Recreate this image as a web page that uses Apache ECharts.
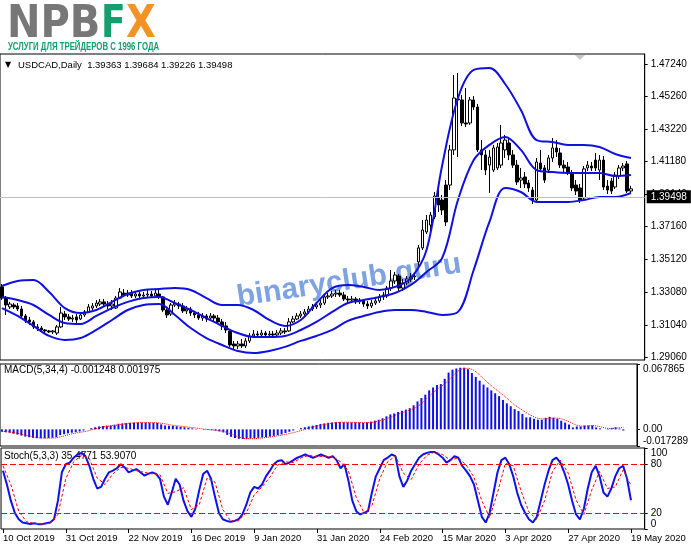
<!DOCTYPE html>
<html><head><meta charset="utf-8">
<script src="https://cdn.jsdelivr.net/npm/echarts@6/dist/echarts.min.js"></script>
<style>html,body{margin:0;padding:0;background:#fff;}#c{width:691px;height:549px;}</style>
</head><body><div id="c"></div><script>
const FONT = '"Liberation Sans", Arial, "DejaVu Sans", sans-serif';

const tickLabels = ['10 Oct 2019','31 Oct 2019','22 Nov 2019','16 Dec 2019','9 Jan 2020','31 Jan 2020','24 Feb 2020','15 Mar 2020','3 Apr 2020','27 Apr 2020','19 May 2020'];
const tickIndex = [0,16,32,48,64,80,96,112,128,144,160];
const slotCount = 164;

const priceTicks = [1.29060,1.31040,1.33080,1.35120,1.37160,1.39140,1.41180,1.43220,1.45260,1.47240];
const macdTicks = [-0.017289, 0, 0.067865];
const stochTicks = [0, 20, 80, 100];
const stochLevels = [80, 20];

const opens = [1.3341,1.3272,1.3217,1.3229,1.3223,1.3204,1.3161,1.3136,1.3124,1.3093,1.3086,1.3074,1.3068,1.3062,1.3055,1.3093,1.3173,1.3155,1.3142,1.3155,
1.3142,1.3167,1.3186,1.3210,1.3223,1.3235,1.3248,1.3235,1.3223,1.3210,1.3272,1.3303,1.3291,1.3303,1.3285,1.3297,1.3285,1.3291,1.3297,1.3285,
1.3297,1.3279,1.3198,1.3173,1.3229,1.3235,1.3223,1.3192,1.3204,1.3179,1.3167,1.3148,1.3161,1.3148,1.3161,1.3148,1.3124,1.3099,1.3068,1.2987,
1.2975,1.2987,1.2975,1.3006,1.3037,1.3049,1.3043,1.3055,1.3043,1.3049,1.3043,1.3055,1.3068,1.3068,1.3124,1.3142,1.3161,1.3173,1.3186,1.3204,
1.3217,1.3229,1.3241,1.3279,1.3285,1.3297,1.3303,1.3291,1.3266,1.3260,1.3266,1.3248,1.3260,1.3235,1.3223,1.3241,1.3254,1.3279,1.3285,1.3334,
1.3378,1.3409,1.3334,1.3365,1.3390,1.3403,1.3496,1.3583,1.3682,1.3725,1.3775,1.3893,1.3880,1.3973,1.3973,1.4191,1.4507,1.4501,1.4358,1.4358,
1.4501,1.4457,1.4191,1.4160,1.4097,1.4066,1.4079,1.4097,1.4191,1.4234,1.4160,1.4097,1.4004,1.4023,1.3986,1.3942,1.3880,1.4110,1.4079,1.4066,
1.4141,1.4203,1.4172,1.4097,1.4085,1.4042,1.3973,1.3955,1.3893,1.4079,1.4091,1.4128,1.4066,1.4128,1.3967,1.3998,1.3961,1.4029,1.4079,1.4104,
1.39363];
const closes = [1.3272,1.3229,1.3235,1.3217,1.3204,1.3161,1.3130,1.3124,1.3093,1.3086,1.3074,1.3068,1.3062,1.3068,1.3093,1.3179,1.3155,1.3142,1.3148,1.3136,
1.3167,1.3186,1.3217,1.3223,1.3241,1.3248,1.3235,1.3223,1.3235,1.3272,1.3310,1.3291,1.3303,1.3285,1.3297,1.3285,1.3291,1.3297,1.3285,1.3303,
1.3279,1.3198,1.3167,1.3229,1.3241,1.3223,1.3192,1.3204,1.3179,1.3167,1.3148,1.3161,1.3142,1.3161,1.3148,1.3124,1.3099,1.3074,1.2981,1.2975,
1.2987,1.2975,1.3006,1.3037,1.3049,1.3043,1.3055,1.3043,1.3049,1.3043,1.3055,1.3068,1.3062,1.3124,1.3142,1.3161,1.3173,1.3186,1.3204,1.3217,
1.3229,1.3241,1.3279,1.3285,1.3297,1.3303,1.3291,1.3266,1.3260,1.3266,1.3248,1.3260,1.3235,1.3223,1.3241,1.3254,1.3279,1.3291,1.3334,1.3378,
1.3415,1.3334,1.3365,1.3390,1.3403,1.3409,1.3583,1.3694,1.3756,1.3787,1.3905,1.3849,1.3818,1.3744,1.4191,1.4513,1.4501,1.4358,1.4352,1.4501,
1.4457,1.4191,1.4160,1.4066,1.4147,1.4203,1.4209,1.4234,1.4252,1.4160,1.4097,1.3992,1.4017,1.3980,1.3955,1.3880,1.4116,1.4073,1.4004,1.4141,
1.4203,1.4178,1.4097,1.4079,1.4054,1.3955,1.3936,1.3880,1.4073,1.4097,1.4079,1.4079,1.4128,1.3961,1.3942,1.3936,1.4035,1.4079,1.4091,1.3936,
1.39498];
const highs = [1.3359,1.3285,1.3248,1.3241,1.3241,1.3223,1.3173,1.3155,1.3136,1.3111,1.3099,1.3080,1.3074,1.3074,1.3105,1.3217,1.3192,1.3173,1.3167,1.3173,
1.3179,1.3198,1.3235,1.3241,1.3260,1.3266,1.3266,1.3254,1.3260,1.3285,1.3334,1.3328,1.3322,1.3322,1.3316,1.3316,1.3310,1.3328,1.3316,1.3328,
1.3322,1.3285,1.3217,1.3241,1.3260,1.3248,1.3241,1.3223,1.3217,1.3192,1.3186,1.3179,1.3173,1.3179,1.3173,1.3167,1.3142,1.3124,1.3080,1.3006,
1.3006,1.3018,1.3024,1.3055,1.3074,1.3068,1.3074,1.3068,1.3068,1.3068,1.3074,1.3086,1.3086,1.3148,1.3161,1.3179,1.3192,1.3204,1.3223,1.3235,
1.3248,1.3260,1.3297,1.3303,1.3316,1.3322,1.3322,1.3310,1.3285,1.3285,1.3279,1.3272,1.3266,1.3254,1.3260,1.3279,1.3297,1.3310,1.3347,1.3446,
1.3434,1.3421,1.3390,1.3409,1.3427,1.3434,1.3601,1.3756,1.3787,1.3806,1.3930,1.3992,1.3911,1.4004,1.4222,1.4656,1.4668,1.4532,1.4575,1.4519,
1.4525,1.4476,1.4252,1.4191,1.4191,1.4222,1.4234,1.4346,1.4284,1.4265,1.4191,1.4128,1.4079,1.4054,1.4004,1.3961,1.4141,1.4191,1.4097,1.4160,
1.4265,1.4252,1.4203,1.4128,1.4116,1.4066,1.4004,1.3980,1.4091,1.4122,1.4116,1.4172,1.4160,1.4153,1.4004,1.4017,1.4054,1.4097,1.4110,1.4122,
1.39684];
const lows = [1.3260,1.3167,1.3204,1.3204,1.3192,1.3148,1.3117,1.3105,1.3080,1.3068,1.3062,1.3055,1.3055,1.3049,1.3043,1.3086,1.3136,1.3130,1.3124,1.3111,
1.3136,1.3155,1.3179,1.3198,1.3210,1.3223,1.3223,1.3204,1.3198,1.3204,1.3266,1.3279,1.3279,1.3272,1.3272,1.3266,1.3272,1.3279,1.3272,1.3279,
1.3266,1.3186,1.3148,1.3161,1.3217,1.3204,1.3179,1.3173,1.3161,1.3148,1.3136,1.3130,1.3124,1.3136,1.3130,1.3111,1.3074,1.3055,1.2969,1.2956,
1.2956,1.2962,1.2962,1.2993,1.3024,1.3024,1.3031,1.3024,1.3031,1.3031,1.3037,1.3043,1.3049,1.3062,1.3117,1.3136,1.3148,1.3161,1.3173,1.3192,
1.3204,1.3210,1.3229,1.3266,1.3272,1.3279,1.3279,1.3254,1.3241,1.3241,1.3235,1.3235,1.3217,1.3204,1.3210,1.3229,1.3241,1.3260,1.3272,1.3316,
1.3359,1.3316,1.3316,1.3353,1.3372,1.3384,1.3471,1.3570,1.3669,1.3694,1.3762,1.3806,1.3787,1.3719,1.3942,1.4160,1.4147,1.4339,1.4333,1.4346,
1.4439,1.4178,1.4066,1.4035,1.3924,1.4054,1.4066,1.4079,1.4141,1.4128,1.4079,1.3973,1.3955,1.3955,1.3930,1.3855,1.3862,1.4054,1.3986,1.4048,
1.4116,1.4147,1.4079,1.4054,1.4035,1.3936,1.3911,1.3862,1.3880,1.4060,1.4060,1.4060,1.4004,1.3942,1.3918,1.3918,1.3949,1.4011,1.4060,1.3924,
1.39226];

const bandIndex = [0,4,8,12,16,20,24,28,32,36,40,44,48,52,56,60,64,68,72,76,80,84,88,92,96,100,104,108,112,116,120,124,128,132,136,140,144,148,152,156,160];
const bbUpper = [1.3347,1.3378,1.3384,1.3310,1.3210,1.3179,1.3198,1.3248,1.3297,1.3322,1.3328,1.3334,1.3322,1.3272,1.3229,1.3229,1.3198,1.3136,1.3099,1.3136,
1.3241,1.3334,1.3353,1.3341,1.3322,1.3341,1.3396,1.3570,1.4097,1.4513,1.4687,1.4699,1.4600,1.4439,1.4252,1.4240,1.4222,1.4222,1.4209,1.4166,1.4141];
const bbMiddle = [1.3279,1.3260,1.3229,1.3167,1.3117,1.3111,1.3161,1.3210,1.3248,1.3272,1.3279,1.3241,1.3198,1.3148,1.3099,1.3055,1.3031,1.3031,1.3037,1.3074,
1.3124,1.3186,1.3241,1.3260,1.3279,1.3303,1.3353,1.3434,1.3521,1.3880,1.4128,1.4222,1.4271,1.4191,1.4066,1.4054,1.4048,1.4048,1.4048,1.4029,1.4035];
const bbLower = [1.3210,1.3161,1.3099,1.3037,1.3012,1.3024,1.3074,1.3136,1.3198,1.3229,1.3235,1.3167,1.3086,1.3024,1.2981,1.2944,1.2931,1.2944,1.2969,1.3006,
1.3037,1.3074,1.3130,1.3161,1.3186,1.3198,1.3198,1.3186,1.3167,1.3186,1.3446,1.3744,1.3955,1.3930,1.3868,1.3868,1.3868,1.3880,1.3899,1.3899,1.3924];

const macdMain = [-0.0025,-0.0030,-0.0035,-0.0045,-0.0055,-0.0065,-0.0075,-0.0082,-0.0088,-0.0092,-0.0093,-0.0092,-0.0090,-0.0087,-0.0080,-0.0060,-0.0050,-0.0042,-0.0035,-0.0030,
-0.0022,-0.0012,0.0000,0.0012,0.0022,0.0030,0.0035,0.0038,0.0040,0.0048,0.0058,0.0062,0.0066,0.0068,0.0070,0.0071,0.0071,0.0070,0.0069,0.0068,
0.0066,0.0052,0.0040,0.0038,0.0036,0.0032,0.0026,0.0022,0.0016,0.0010,0.0004,0.0000,-0.0004,-0.0006,-0.0009,-0.0014,-0.0022,-0.0032,-0.0058,-0.0078,
-0.0090,-0.0098,-0.0100,-0.0098,-0.0095,-0.0092,-0.0088,-0.0085,-0.0080,-0.0075,-0.0068,-0.0060,-0.0052,-0.0038,-0.0025,-0.0012,0.0000,0.0012,0.0022,0.0030,
0.0038,0.0045,0.0055,0.0062,0.0068,0.0072,0.0075,0.0075,0.0074,0.0073,0.0072,0.0072,0.0070,0.0068,0.0072,0.0080,0.0090,0.0100,0.0115,0.0135,
0.0155,0.0165,0.0180,0.0192,0.0205,0.0220,0.0250,0.0290,0.0325,0.0360,0.0405,0.0435,0.0460,0.0470,0.0525,0.0590,0.0620,0.0632,0.0640,0.0640,
0.0625,0.0585,0.0545,0.0505,0.0465,0.0435,0.0405,0.0375,0.0345,0.0305,0.0270,0.0240,0.0210,0.0190,0.0160,0.0125,0.0125,0.0110,0.0100,0.0100,
0.0120,0.0130,0.0120,0.0110,0.0090,0.0070,0.0050,0.0020,0.0030,0.0030,0.0040,0.0040,0.0040,0.0020,0.0010,0.0000,0.0005,0.0015,0.0022,0.0008,
-0.001248];
const macdSignalIndex = [0,2,4,6,8,10,12,14,16,18,20,22,24,26,28,30,32,34,36,38,40,42,44,46,48,50,52,54,56,58,60,62,64,66,68,70,72,74,76,78,
80,82,84,86,88,90,92,94,96,98,100,102,104,106,108,110,112,114,116,118,120,122,124,126,128,130,132,134,136,138,140,142,144,146,148,150,152,154,156,158,160];
const macdSignal = [-0.0020,-0.0028,-0.0041,-0.0060,-0.0077,-0.0089,-0.0092,-0.0087,-0.0069,-0.0047,-0.0032,-0.0017,0.0006,0.0025,0.0036,0.0046,0.0059,0.0067,0.0070,0.0070,
0.0068,0.0057,0.0042,0.0033,0.0024,0.0013,0.0003,-0.0005,-0.0013,-0.0032,-0.0065,-0.0092,-0.0098,-0.0093,-0.0085,-0.0074,-0.0060,-0.0044,-0.0024,0.0000,
0.0026,0.0042,0.0057,0.0069,0.0074,0.0073,0.0071,0.0070,0.0076,0.0096,0.0126,0.0159,0.0186,0.0217,0.0266,0.0345,0.0415,0.0472,0.0549,0.0620,
0.0634,0.0599,0.0525,0.0453,0.0390,0.0324,0.0254,0.0200,0.0150,0.0115,0.0108,0.0118,0.0110,0.0080,0.0043,0.0033,0.0039,0.0028,0.0009,0.0012,
0.001975];

const stochMain = [72,55,35,20,12,8,7,6,7,6,6,7,8,12,35,70,80,82,88,92,
94,90,78,62,50,52,62,70,72,75,80,76,70,72,74,70,66,68,70,68,
62,40,30,45,62,55,35,22,15,25,48,68,72,62,40,20,12,10,9,10,
12,18,30,45,52,50,55,65,72,80,84,85,80,82,85,88,90,92,90,88,
90,92,90,88,90,85,75,80,60,35,22,18,20,22,45,65,75,85,88,92,
90,65,52,60,72,80,88,92,94,95,95,92,88,82,85,90,88,78,72,65,
55,35,15,8,20,45,70,85,88,80,65,45,30,20,12,8,15,35,55,72,
85,88,82,70,55,35,18,12,25,50,70,78,65,45,40,50,65,75,78,62,
35.4771];
const stochSignal = [78,55,22,9,7,6,7,18,62,83,91,87,63,55,68,76,75,72,70,68,
67,44,46,51,24,30,63,58,24,10,10,20,42,52,64,79,83,82,88,91,
89,90,89,83,72,39,20,29,62,83,90,69,61,80,91,95,92,85,88,79,
64,35,14,45,81,78,47,21,12,35,71,85,69,36,18,48,71,50,52,73,
53.9070];

const slots = [];
for (let i = 0; i < slotCount; i++) slots.push('');
tickIndex.forEach((idx, k) => { slots[idx] = tickLabels[k]; });
const isTick = (idx) => tickIndex.indexOf(idx) >= 0;

const last = closes.length - 1;
const candleData = opens.map((o, i) => [o, closes[i], lows[i], highs[i]]);
const pair = (idxArr, vals) => idxArr.map((x, k) => [x, vals[k]]);
const headerText = 'USDCAD,Daily  ' + [opens[last], highs[last], lows[last], closes[last]].map(v => v.toFixed(5)).join(' ');
const macdText = 'MACD(5,34,4) ' + macdMain[macdMain.length-1].toFixed(6) + ' ' + macdSignal[macdSignal.length-1].toFixed(6);
const stochText = 'Stoch(5,3,3) ' + stochMain[stochMain.length-1].toFixed(4) + ' ' + stochSignal[stochSignal.length-1].toFixed(4);

const GL = 0, GW = 644.7;
const baseX = (gi, showLabels) => ({
  type: 'category', gridIndex: gi, data: slots, boundaryGap: true,
  axisLine: { show: false },
  axisTick: { show: showLabels, interval: (i) => isTick(i), alignWithLabel: true, length: 4, lineStyle: { color: '#000' } },
  axisLabel: { show: showLabels, interval: (i) => isTick(i), align: 'left', margin: 4, color: '#000', fontSize: 9.5, fontFamily: FONT },
  splitLine: { show: false }
});
const baseY = (gi, min, max, ticks, fmt) => ({
  type: 'value', gridIndex: gi, position: 'right', min: min, max: max,
  axisLine: { show: true, lineStyle: { color: '#000' } },
  axisTick: { show: true, length: 3, customValues: ticks, lineStyle: { color: '#000' } },
  axisLabel: { customValues: ticks, formatter: fmt, margin: 6, color: '#000', fontSize: 10, fontFamily: FONT,
    verticalAlignMinLabel: 'bottom', verticalAlignMaxLabel: 'top' },
  splitLine: { show: false }
});

const LOGO = '"DejaVu Sans", "Liberation Sans", sans-serif';
const chart = echarts.init(document.getElementById('c'), null, { renderer: 'canvas' });
chart.setOption({
  animation: false,
  backgroundColor: '#ffffff',
  grid: [
    { left: GL, top: 54, width: GW, height: 306, show: true, borderColor: '#000', borderWidth: 1 },
    { left: GL, top: 364, width: GW, height: 82, show: true, borderColor: '#000', borderWidth: 1 },
    { left: GL, top: 448, width: GW, height: 81, show: true, borderColor: '#000', borderWidth: 1 }
  ],
  xAxis: [baseX(0, false), baseX(1, false), baseX(2, true)],
  yAxis: [
    Object.assign(baseY(0, 1.28877, 1.47860, priceTicks, v => v.toFixed(5)), { axisLabel: { customValues: priceTicks, formatter: v => v.toFixed(5), margin: 6, color: '#000', fontSize: 10, fontFamily: FONT } }),
    baseY(1, macdTicks[0], macdTicks[2], macdTicks, v => (v === 0 ? '0.00' : v.toFixed(6))),
    baseY(2, 0, 100, stochTicks, v => String(v))
  ],
  graphic: [
    { type: 'text', z: 1, x: 349, y: 281, rotation: 0.15,
      style: { text: 'binaryclub.guru', x: 0, y: 0, align: 'center', verticalAlign: 'middle', textAlign: 'center', textVerticalAlign: 'middle',
        font: 'bold 30px ' + FONT, fill: 'rgba(92,140,222,0.8)' } },
    { type: 'text', x: 7, y: 26, scaleX: 0.91, originX: 0, originY: 0, style: { text: 'NPB', font: 'bold 44px ' + LOGO, fill: '#777777', verticalAlign: 'middle', textVerticalAlign: 'middle' } },
    { type: 'text', x: 101, y: 26, scaleX: 0.82, originX: 0, originY: 0, style: { text: 'F', font: 'bold 44px ' + LOGO, fill: '#14a06e', verticalAlign: 'middle', textVerticalAlign: 'middle' } },
    { type: 'text', x: 126, y: 26, scaleX: 0.88, originX: 0, originY: 0, style: { text: 'X', font: 'bold 44px ' + LOGO, fill: '#f39325', verticalAlign: 'middle', textVerticalAlign: 'middle' } },
    { type: 'text', x: 8, y: 47, scaleX: 0.71, originX: 0, originY: 0,
      style: { text: 'УСЛУГИ ДЛЯ ТРЕЙДЕРОВ С 1996 ГОДА', font: 'bold 11px ' + FONT, fill: '#14a06e', verticalAlign: 'middle', textVerticalAlign: 'middle' } },
    { type: 'text', x: 5, y: 65, style: { text: '▼', font: '8px "DejaVu Sans"', fill: '#000', verticalAlign: 'middle', textVerticalAlign: 'middle' } },
    { type: 'text', x: 18, y: 65, style: { text: headerText, font: '9.5px ' + FONT, fill: '#000', verticalAlign: 'middle', textVerticalAlign: 'middle' } },
    { type: 'text', x: 4, y: 370, style: { text: macdText, font: '10px ' + FONT, fill: '#000', verticalAlign: 'middle', textVerticalAlign: 'middle' } },
    { type: 'text', x: 4, y: 456, style: { text: stochText, font: '10px ' + FONT, fill: '#000', verticalAlign: 'middle', textVerticalAlign: 'middle' } },
    { type: 'polygon', shape: { points: [[575, 55], [585, 55], [580, 60]] }, style: { fill: '#c8c8c8' } }
  ],
  series: [
    { type: 'candlestick', xAxisIndex: 0, yAxisIndex: 0, data: candleData, barWidth: 3,
      itemStyle: { color: '#ffffff', color0: '#000000', borderColor: '#000000', borderColor0: '#000000', borderWidth: 1 },
      markLine: { silent: true, symbol: ['none', 'none'], animation: false,
        lineStyle: { color: '#c0c0c0', type: 'solid', width: 1 },
        label: { show: true, position: 'end', distance: 2, formatter: () => closes[last].toFixed(5),
          backgroundColor: '#000', color: '#fff', padding: [2, 4, 1, 4], fontSize: 10, fontFamily: FONT },
        data: [{ yAxis: closes[last] }] } },
    { type: 'line', xAxisIndex: 0, yAxisIndex: 0, data: pair(bandIndex, bbUpper), smooth: 0.35, symbol: 'none', lineStyle: { color: '#1010e0', width: 2 } },
    { type: 'line', xAxisIndex: 0, yAxisIndex: 0, data: pair(bandIndex, bbMiddle), smooth: 0.35, symbol: 'none', lineStyle: { color: '#1010e0', width: 2 } },
    { type: 'line', xAxisIndex: 0, yAxisIndex: 0, data: pair(bandIndex, bbLower), smooth: 0.35, symbol: 'none', lineStyle: { color: '#1010e0', width: 2 } },
    { type: 'bar', xAxisIndex: 1, yAxisIndex: 1, data: macdMain, barWidth: 2, itemStyle: { color: '#1010e8' } },
    { type: 'line', xAxisIndex: 1, yAxisIndex: 1, data: pair(macdSignalIndex, macdSignal), smooth: 0.3, symbol: 'none', lineStyle: { color: '#ff0000', width: 1, type: 'dotted' } },
    { type: 'line', xAxisIndex: 2, yAxisIndex: 2, data: stochMain, symbol: 'none', lineStyle: { color: '#1010e8', width: 2 },
      markLine: { silent: true, symbol: ['none', 'none'], animation: false, label: { show: false },
        lineStyle: { color: '#ff0000', type: [6, 3], width: 1 }, data: stochLevels.map(v => ({ yAxis: v })) } },
    { type: 'line', xAxisIndex: 2, yAxisIndex: 2, data: pair(macdSignalIndex, stochSignal), symbol: 'none', lineStyle: { color: '#ff0000', width: 1, type: [3, 2] } }
  ]
});
</script></body></html>
